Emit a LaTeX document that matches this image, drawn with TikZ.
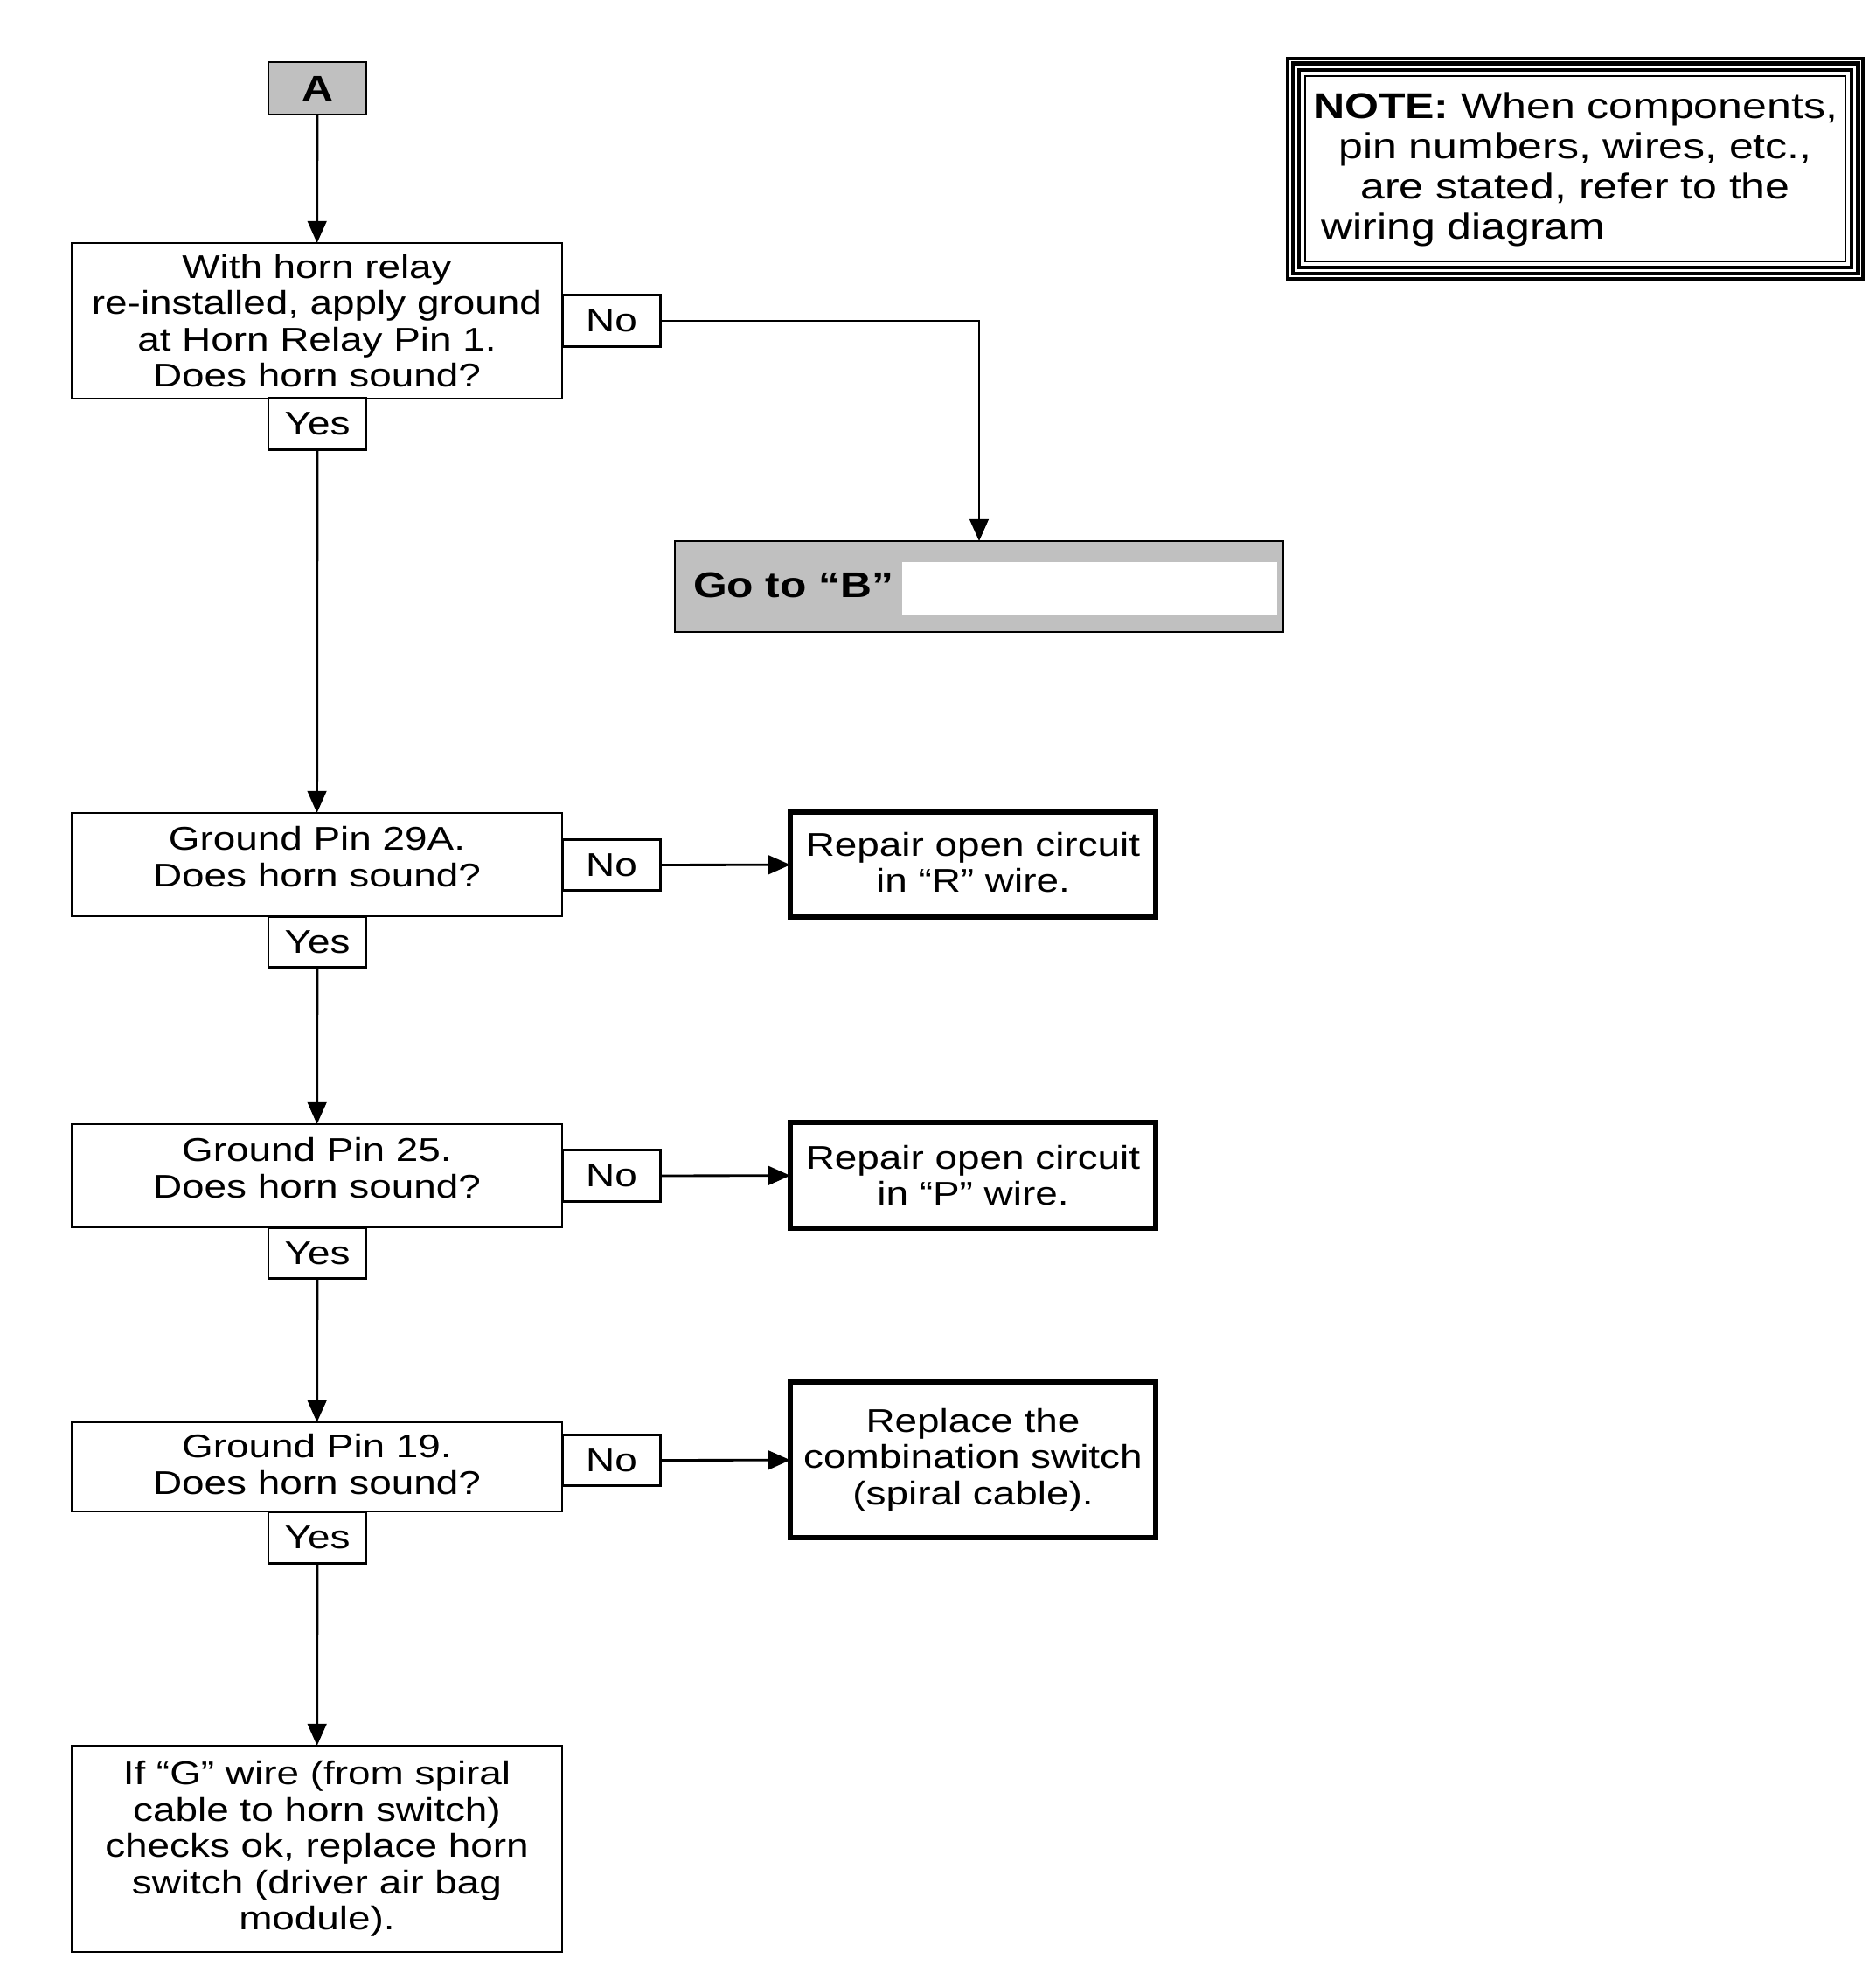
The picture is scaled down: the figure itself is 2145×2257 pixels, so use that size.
\documentclass[tikz,border=0pt]{standalone}
\usepackage{fontspec}
\setmainfont{Liberation Sans}[FakeStretch=1.22]
\usetikzlibrary{arrows.meta}
\definecolor{boxgray}{HTML}{C0C0C0}
\begin{document}
\begin{tikzpicture}[x=0.25pt,y=-0.25pt,
  every node/.style={font=\fontsize{9.4}{10.4}\selectfont, inner sep=0pt, outer sep=0pt, text=black},
  qbox/.style={draw, line width=0.7pt, minimum width=140.25pt, align=center},
  tab/.style={draw, line width=0.7pt, fill=white, minimum width=28pt, minimum height=14.6pt},
  resbox/.style={draw, line width=1.6pt, minimum width=104.5pt, align=center},
  conn/.style={line width=0.7pt, -{Triangle[length=6.3pt,width=5.4pt]}}
]
\useasboundingbox (0,0) rectangle (2145,2257);

% start node
\node[draw, line width=0.7pt, fill=boxgray, minimum width=28pt, minimum height=15pt, font=\fontsize{10.2}{11}\selectfont\bfseries] (A) at (363,101) {A};

% question 1
\node[qbox, minimum height=44.5pt] (q1) at (362.5,367) {With horn relay\\re-installed, apply ground\\at Horn Relay Pin 1.\\Does horn sound?};
\node[tab] (no1) at (699.5,367) {No};
\node[tab] (yes1) at (363,485) {Yes};

% go to B
\node[draw, line width=0.7pt, fill=boxgray, minimum width=174pt, minimum height=26pt] (gotoB) at (1120,671) {};
\fill[white] (1032,643) rectangle (1461,704);
\node[anchor=west, font=\fontsize{10.2}{11}\selectfont\bfseries] (gotoBtext) at (793,669) {Go to “B”};

% note
\node[minimum width=165.5pt, minimum height=64pt] (note) at (1802,193) {};
\draw[line width=2.4pt] ([shift={(1.2pt,-1.2pt)}]note.north west) rectangle ([shift={(-1.2pt,1.2pt)}]note.south east);
\draw[white, line width=0.35pt] ([shift={(1.2pt,-1.2pt)}]note.north west) rectangle ([shift={(-1.2pt,1.2pt)}]note.south east);
\draw[line width=0.9pt] ([shift={(3.7pt,-3.7pt)}]note.north west) rectangle ([shift={(-3.7pt,3.7pt)}]note.south east);
\draw[line width=0.5pt] ([shift={(5.5pt,-5.5pt)}]note.north west) rectangle ([shift={(-5.5pt,5.5pt)}]note.south east);
\node[text width=150pt, align=center, font=\fontsize{10.25}{11.5}\selectfont] (notetext) at (1802,194)
  {\textbf{NOTE:} When components,\\pin numbers, wires, etc.,\\are stated, refer to the\\\makebox[150pt][l]{\hspace{2.3pt}wiring diagram}};

% question 2
\node[qbox, minimum height=29.5pt, text depth=4.6pt] (q2) at (362.5,989) {Ground Pin 29A.\\Does horn sound?};
\node[tab] (no2) at (699.5,989.5) {No};
\node[tab] (yes2) at (363,1077.5) {Yes};
\node[resbox, minimum height=30pt, text depth=1.4pt] (r2) at (1113,989) {Repair open circuit\\in “R” wire.};

% question 3
\node[qbox, minimum height=29.5pt, text depth=4.6pt] (q3) at (362.5,1345) {Ground Pin 25.\\Does horn sound?};
\node[tab] (no3) at (699.5,1345) {No};
\node[tab] (yes3) at (363,1433.5) {Yes};
\node[resbox, minimum height=30.25pt] (r3) at (1113,1344.5) {Repair open circuit\\in “P” wire.};

% question 4
\node[qbox, minimum height=25.5pt, text depth=1.6pt] (q4) at (362.5,1678) {Ground Pin 19.\\Does horn sound?};
\node[tab] (no4) at (699.5,1670.5) {No};
\node[tab] (yes4) at (363,1759) {Yes};
\node[resbox, minimum height=44.5pt] (r4) at (1113,1670) {Replace the\\combination switch\\(spiral cable).};

% final
\node[qbox, minimum height=59pt] (q5) at (362.5,2115) {If “G” wire (from spiral\\cable to horn switch)\\checks ok, replace horn\\switch (driver air bag\\module).};

% connectors
\draw[conn] (A) -- (q1);
\draw[conn] (no1.east) -| (gotoB.north);
\draw[conn] (yes1) -- (q2);
\draw[conn] (no2) -- (r2);
\draw[conn] (yes2) -- (q3);
\draw[conn] (no3) -- (r3);
\draw[conn] (yes3) -- (q4);
\draw[conn] (no4) -- (r4);
\draw[conn] (yes4) -- (q5);
\end{tikzpicture}
\end{document}
